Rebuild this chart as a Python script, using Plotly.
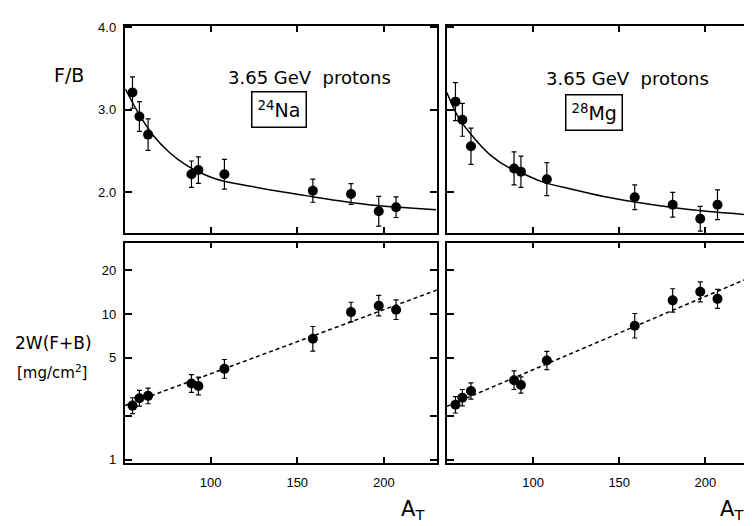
import plotly.graph_objects as go

# ---------------- data ----------------
A_T = [55, 59, 64, 89, 93, 108, 159, 181, 197, 207]

na_fb = [3.21, 2.92, 2.70, 2.22, 2.27, 2.22, 2.02, 1.98, 1.77, 1.82]
na_fb_err = [0.19, 0.18, 0.19, 0.16, 0.16, 0.18, 0.14, 0.125, 0.18, 0.125]

mg_fb = [3.10, 2.88, 2.56, 2.29, 2.25, 2.16, 1.94, 1.85, 1.68, 1.85]
mg_fb_err = [0.23, 0.20, 0.22, 0.20, 0.19, 0.20, 0.15, 0.15, 0.15, 0.18]

na_w = [2.35, 2.64, 2.74, 3.33, 3.20, 4.20, 6.75, 10.3, 11.4, 10.7]
na_w_plus = [0.31, 0.35, 0.36, 0.50, 0.48, 0.67, 1.45, 1.73, 2.0, 1.8]
na_w_minus = [0.28, 0.31, 0.32, 0.43, 0.42, 0.58, 1.19, 1.48, 1.7, 1.54]

mg_w = [2.38, 2.66, 2.96, 3.51, 3.25, 4.79, 8.3, 12.4, 14.2, 12.7]
mg_w_plus = [0.33, 0.37, 0.41, 0.56, 0.45, 0.74, 1.77, 2.5, 2.4, 2.05]
mg_w_minus = [0.29, 0.32, 0.36, 0.48, 0.39, 0.64, 1.46, 2.1, 2.1, 1.77]

# fitted curves (F/B)
na_fit_x = [51, 59, 67, 76, 86, 96, 105, 124, 140, 158, 177, 196, 215, 230]
na_fit_y = [3.25, 2.94, 2.69, 2.49, 2.33, 2.22, 2.15, 2.07, 2.01, 1.95, 1.89, 1.84, 1.81, 1.79]
mg_fit_x = [50, 57, 67, 76, 86, 96, 105, 122, 141, 160, 180, 199, 218, 230]
mg_fit_y = [3.21, 2.90, 2.63, 2.44, 2.30, 2.21, 2.13, 2.04, 1.95, 1.88, 1.82, 1.775, 1.74, 1.72]

# dashed lines (2W(F+B))
na_lin_x = [50.5, 230.5]
na_lin_y = [2.35, 14.6]
mg_lin_x = [50, 230.5]
mg_lin_y = [2.32, 18.8]

x_ticks = [100, 150, 200]
fb_ticks = [2.0, 3.0, 4.0]
fb_labels = ["2.0", "3.0", "4.0"]
w_ticks = [1, 5, 10, 20]
w_labels = ["1", "5", "10", "20"]
w_minor_ticks = [2]

# ---------------- figure ----------------
W, H = 752, 526
BLACK = "black"
FONT = "DejaVu Sans"
TICKFONT = dict(family="Liberation Sans", size=13, color=BLACK)

fig = go.Figure()

def px_x(p):
    return p / W

def px_y(p):
    return 1 - p / H

marker = dict(color=BLACK, size=10)
def err(arr, arrm=None):
    d = dict(type="data", array=arr, color=BLACK, thickness=1.2, width=2.5, visible=True)
    if arrm is not None:
        d["arrayminus"] = arrm
        d["symmetric"] = False
    return d

# top-left: 24Na F/B
fig.add_trace(go.Scatter(x=na_fit_x, y=na_fit_y, mode="lines", line=dict(color=BLACK, width=1.5, shape="spline"),
                         xaxis="x", yaxis="y", showlegend=False, hoverinfo="skip"))
fig.add_trace(go.Scatter(x=A_T, y=na_fb, mode="markers", marker=marker, error_y=err(na_fb_err),
                         xaxis="x", yaxis="y", showlegend=False))
# bottom-left: 24Na 2W(F+B)
fig.add_trace(go.Scatter(x=na_lin_x, y=na_lin_y, mode="lines", line=dict(color=BLACK, width=1.5, dash="4px,3px"),
                         xaxis="x2", yaxis="y2", showlegend=False, hoverinfo="skip"))
fig.add_trace(go.Scatter(x=A_T, y=na_w, mode="markers", marker=marker, error_y=err(na_w_plus, na_w_minus),
                         xaxis="x2", yaxis="y2", showlegend=False))
# top-right: 28Mg F/B
fig.add_trace(go.Scatter(x=mg_fit_x, y=mg_fit_y, mode="lines", line=dict(color=BLACK, width=1.5, shape="spline"),
                         xaxis="x3", yaxis="y3", showlegend=False, hoverinfo="skip"))
fig.add_trace(go.Scatter(x=A_T, y=mg_fb, mode="markers", marker=marker, error_y=err(mg_fb_err),
                         xaxis="x3", yaxis="y3", showlegend=False))
# bottom-right: 28Mg 2W(F+B)
fig.add_trace(go.Scatter(x=mg_lin_x, y=mg_lin_y, mode="lines", line=dict(color=BLACK, width=1.5, dash="4px,3px"),
                         xaxis="x4", yaxis="y4", showlegend=False, hoverinfo="skip"))
fig.add_trace(go.Scatter(x=A_T, y=mg_w, mode="markers", marker=marker, error_y=err(mg_w_plus, mg_w_minus),
                         xaxis="x4", yaxis="y4", showlegend=False))

left_dom = [px_x(117), px_x(430)]
right_dom = [px_x(440), 1.0]
top_dom = [px_y(223), px_y(12)]
bot_dom = [px_y(458), px_y(233)]

def xax(domain, anchor, rng, labels):
    return dict(domain=domain, anchor=anchor, range=rng, tickvals=x_ticks,
                ticktext=[str(v) for v in x_ticks], showticklabels=labels,
                ticks="inside", ticklen=6, tickwidth=1.5, tickcolor=BLACK,
                showline=True, linecolor=BLACK, linewidth=1.8, mirror="ticks",
                showgrid=False, zeroline=False, tickfont=TICKFONT, ticklabelstandoff=6)

def yfb(domain, anchor, labels):
    return dict(domain=domain, anchor=anchor, range=[1.51, 4.02], tickvals=fb_ticks,
                ticktext=fb_labels, showticklabels=labels,
                ticks="inside", ticklen=7, tickwidth=1.5, tickcolor=BLACK,
                showline=True, linecolor=BLACK, linewidth=1.8, mirror="ticks",
                showgrid=False, zeroline=False, tickfont=TICKFONT, ticklabelstandoff=4)

def yw(domain, anchor, labels):
    return dict(domain=domain, anchor=anchor, type="log", range=[-0.025, 1.49], tickvals=w_ticks,
                ticktext=w_labels, showticklabels=labels,
                ticks="inside", ticklen=7, tickwidth=1.5, tickcolor=BLACK,
                minor=dict(tickvals=w_minor_ticks, ticks="inside", ticklen=7, tickwidth=1.5,
                           tickcolor=BLACK, showgrid=False),
                showline=True, linecolor=BLACK, linewidth=1.8, mirror="ticks",
                showgrid=False, zeroline=False, tickfont=TICKFONT, ticklabelstandoff=4)

fig.update_layout(
    width=W, height=H, autosize=False,
    margin=dict(l=0, r=0, t=0, b=0),
    paper_bgcolor="white", plot_bgcolor="white",
    font=dict(family=FONT, color=BLACK),
    xaxis=xax(left_dom, "y", [50.5, 230.5], False),
    yaxis=yfb(top_dom, "x", True),
    xaxis2=xax(left_dom, "y2", [50.5, 230.5], True),
    yaxis2=yw(bot_dom, "x2", True),
    xaxis3=xax(right_dom, "y3", [50, 230.5], False),
    yaxis3=yfb(top_dom, "x3", False),
    xaxis4=xax(right_dom, "y4", [50, 230.5], True),
    yaxis4=yw(bot_dom, "x4", False),
)

def note(text, x, y, size, **kw):
    fig.add_annotation(text=text, x=px_x(x), y=px_y(y), xref="paper", yref="paper",
                       showarrow=False, xanchor="center", yanchor="middle",
                       font=dict(family=FONT, size=size, color=BLACK), **kw)

note("F/B", 61, 62, 19)
note("3.65 GeV  protons", 302, 65, 18)
note("3.65 GeV  protons", 621, 66, 18)
note("<sup>24</sup>Na", 272, 97, 19, bordercolor=BLACK, borderwidth=1.5, borderpad=5, bgcolor="white")
note("<sup>28</sup>Mg", 588, 100, 19, bordercolor=BLACK, borderwidth=1.5, borderpad=5, bgcolor="white")
note("2W(F+B)", 46, 335, 17)
note("[mg/cm<sup>2</sup>]", 44, 365, 15)
note("A<sub>T</sub>", 406, 506, 21)
note("A<sub>T</sub>", 726, 506, 21)

fig.write_html("out.html")
